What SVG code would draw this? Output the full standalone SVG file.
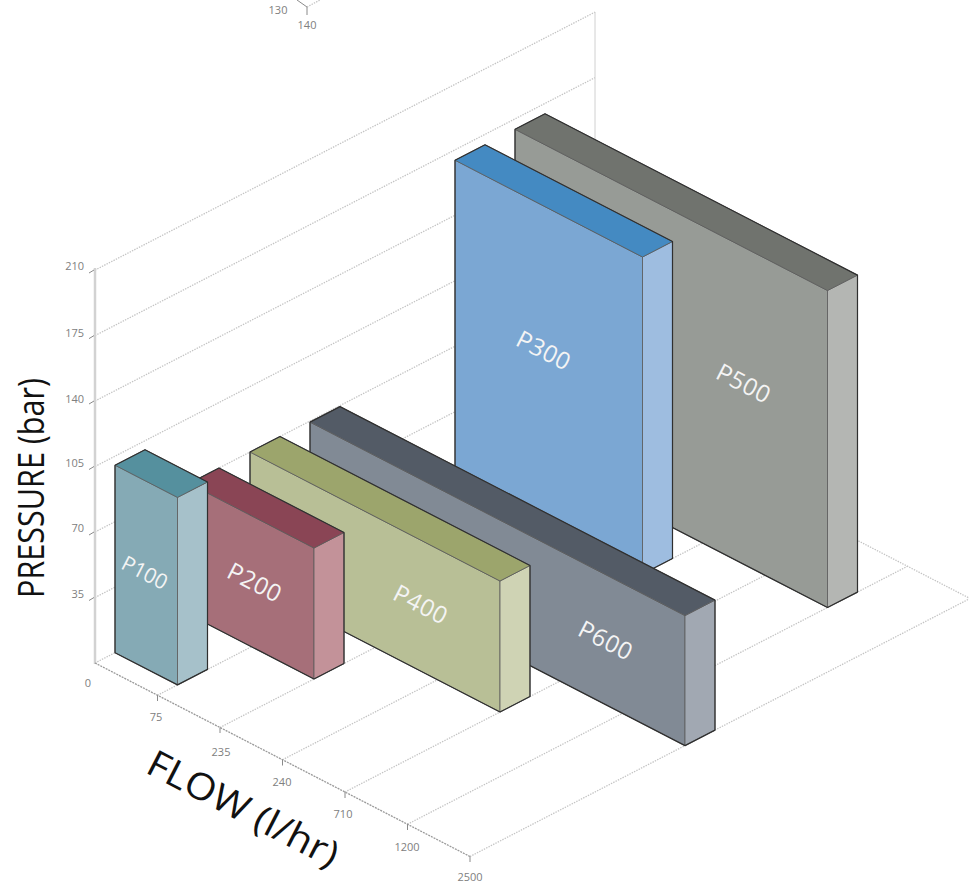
<svg xmlns="http://www.w3.org/2000/svg" width="969" height="887" viewBox="0 0 969 887">
<defs>
<style>
.grid{stroke:#c4c4c4;stroke-width:1.3;stroke-dasharray:1.4 1.2;fill:none}
.axis{stroke:#9a9a9a;stroke-width:1.3;stroke-dasharray:2 1;fill:none}
.vaxis{stroke:#d2d2d2;stroke-width:2.5;fill:none}
.thin{stroke:#d0d0d0;stroke-width:1;fill:none}
.tick{stroke:#8a8a8a;stroke-width:1;fill:none}
.tl{font-family:"Open Sans","Noto Sans",sans-serif;font-size:11px;fill:#808080}
.big{font-family:"Open Sans","Noto Sans",sans-serif;font-size:37px;fill:#111}
.face{stroke:#5a5a5a;stroke-width:0.8;stroke-linejoin:round}
.out{fill:none;stroke:#2f2f2f;stroke-width:1.2;stroke-linejoin:round}
.lbl{font-family:"Open Sans","Noto Sans",sans-serif;font-size:24px;fill:#f4f4f4;text-anchor:middle;letter-spacing:0.5px}
</style>
</defs>
<rect width="969" height="887" fill="#fff"/>
<g id="top-fragment">
<line class="tick" x1="297" y1="0" x2="307" y2="7"/>
<line class="grid" x1="307" y1="7" x2="320" y2="0"/>
<line class="tick" x1="307" y1="7" x2="307" y2="15"/>
<text class="tl" x="278" y="14" text-anchor="middle">130</text>
<text class="tl" x="307" y="29" text-anchor="middle">140</text>
</g>
<g id="connectors">
<line class="grid" x1="95" y1="597.5" x2="595" y2="339.5"/>
<line class="grid" x1="95" y1="532" x2="595" y2="274"/>
<line class="grid" x1="95" y1="466.5" x2="595" y2="208.5"/>
<line class="grid" x1="95" y1="401" x2="595" y2="143"/>
<line class="grid" x1="95" y1="335.6" x2="595" y2="77.6"/>
<line class="grid" x1="95" y1="270.1" x2="595" y2="12.1"/>
<line class="thin" x1="595" y1="12" x2="595" y2="405"/>
<line class="grid" x1="95" y1="663" x2="595" y2="405"/>
<line class="grid" x1="157.5" y1="695.25" x2="657.5" y2="437.25"/>
<line class="grid" x1="220" y1="727.5" x2="720" y2="469.5"/>
<line class="grid" x1="282.5" y1="759.75" x2="782.5" y2="501.75"/>
<line class="grid" x1="345" y1="792" x2="845" y2="534"/>
<line class="grid" x1="407.5" y1="824.25" x2="907.5" y2="566.25"/>
<line class="grid" x1="470" y1="856.5" x2="970" y2="598.5"/>
<line class="grid" x1="595" y1="405" x2="970" y2="598.5"/>
<line class="vaxis" x1="95" y1="268" x2="95" y2="664"/>
<line class="axis" x1="95" y1="663" x2="470" y2="856.5"/>
<g class="tick">
<line x1="89" y1="273" x2="94" y2="270"/>
<line x1="89" y1="338.6" x2="94" y2="335.6"/>
<line x1="89" y1="404" x2="94" y2="401"/>
<line x1="89" y1="469.5" x2="94" y2="466.5"/>
<line x1="89" y1="535" x2="94" y2="532"/>
<line x1="89" y1="600.5" x2="94" y2="597.5"/>
<line x1="157.5" y1="695.25" x2="157.5" y2="701"/>
<line x1="220" y1="727.5" x2="220" y2="733"/>
<line x1="282.5" y1="759.75" x2="282.5" y2="765.5"/>
<line x1="345" y1="792" x2="345" y2="798"/>
<line x1="407.5" y1="824.25" x2="407.5" y2="830"/>
<line x1="470" y1="856.5" x2="470" y2="862"/>
</g>
</g>
<g id="axis-labels">
<text class="tl" x="84" y="270" text-anchor="end">210</text>
<text class="tl" x="84" y="337" text-anchor="end">175</text>
<text class="tl" x="84" y="403" text-anchor="end">140</text>
<text class="tl" x="84" y="467" text-anchor="end">105</text>
<text class="tl" x="84" y="532" text-anchor="end">70</text>
<text class="tl" x="84" y="598" text-anchor="end">35</text>
<text class="tl" x="88" y="687" text-anchor="middle">0</text>
<text class="tl" x="156" y="721" text-anchor="middle">75</text>
<text class="tl" x="221" y="756" text-anchor="middle">235</text>
<text class="tl" x="282" y="786" text-anchor="middle">240</text>
<text class="tl" x="343" y="818" text-anchor="middle">710</text>
<text class="tl" x="407" y="851" text-anchor="middle">1200</text>
<text class="tl" x="470" y="881" text-anchor="middle">2500</text>
<text class="big" transform="translate(44,598) rotate(-90)" textLength="220" lengthAdjust="spacingAndGlyphs">PRESSURE (bar)</text>
<text class="big" transform="translate(144,772) rotate(27.3)" textLength="210" lengthAdjust="spacingAndGlyphs">FLOW (l/hr)</text>
</g>
<g id="P500">
<polygon class="face" fill="#979b96" points="515,129.3 827.5,290.5 827.5,607.5 515,446.3"/>
<polygon class="face" fill="#b4b6b3" points="827.5,290.5 857.5,275.1 857.5,592.1 827.5,607.5"/>
<polygon class="face" fill="#70736e" points="515,129.3 545,113.8 857.5,275.1 827.5,290.5"/>
<polygon class="out" points="515,129.3 545,113.8 857.5,275.1 857.5,592.1 827.5,607.5 515,446.3"/>
<text class="lbl" transform="translate(744,383) rotate(27.3)" y="9">P500</text>
</g>
<g id="P300">
<polygon class="face" fill="#7ba7d3" points="455,160.2 642.5,257 642.5,574 455,477.2"/>
<polygon class="face" fill="#9ebde0" points="642.5,257 672.5,241.5 672.5,558.5 642.5,574"/>
<polygon class="face" fill="#448ac2" points="455,160.2 485,144.8 672.5,241.5 642.5,257"/>
<polygon class="out" points="455,160.2 485,144.8 672.5,241.5 672.5,558.5 642.5,574 455,477.2"/>
<text class="lbl" transform="translate(544,350) rotate(27.3)" y="9">P300</text>
</g>
<g id="P600">
<polygon class="face" fill="#818a95" points="310,422.1 685,615.6 685,745.6 310,552.1"/>
<polygon class="face" fill="#a1a8b2" points="685,615.6 715,600.1 715,730.1 685,745.6"/>
<polygon class="face" fill="#535b66" points="310,422.1 340,406.6 715,600.1 685,615.6"/>
<polygon class="out" points="310,422.1 340,406.6 715,600.1 715,730.1 685,745.6 310,552.1"/>
<text class="lbl" transform="translate(606,640) rotate(27.3)" y="9">P600</text>
</g>
<g id="P400">
<polygon class="face" fill="#b8bf96" points="250,452 500,581 500,712 250,583"/>
<polygon class="face" fill="#cfd3b4" points="500,581 530,565.5 530,696.5 500,712"/>
<polygon class="face" fill="#9ca56c" points="250,452 280,436.5 530,565.5 500,581"/>
<polygon class="out" points="250,452 280,436.5 530,565.5 530,696.5 500,712 250,583"/>
<text class="lbl" transform="translate(421,604) rotate(27.3)" y="9">P400</text>
</g>
<g id="P200">
<polygon class="face" fill="#a66f79" points="189,483.5 314,548 314,679 189,614.5"/>
<polygon class="face" fill="#c39299" points="314,548 344,532.5 344,663.5 314,679"/>
<polygon class="face" fill="#8a4555" points="189,483.5 219,468 344,532.5 314,548"/>
<polygon class="out" points="189,483.5 219,468 344,532.5 344,663.5 314,679 189,614.5"/>
<text class="lbl" transform="translate(255,582) rotate(27.3)" y="9">P200</text>
</g>
<g id="P100">
<polygon class="face" fill="#85aab5" points="115,465.2 177.5,497.4 177.5,684.9 115,652.7"/>
<polygon class="face" fill="#a6c1ca" points="177.5,497.4 207.5,482 207.5,669.4 177.5,684.9"/>
<polygon class="face" fill="#55909e" points="115,465.2 145,449.7 207.5,482 177.5,497.4"/>
<polygon class="out" points="115,465.2 145,449.7 207.5,482 207.5,669.4 177.5,684.9 115,652.7"/>
<text class="lbl" style="font-size:21px;letter-spacing:0" transform="translate(145,572) rotate(27.3)" y="8">P100</text>
</g>
</svg>
